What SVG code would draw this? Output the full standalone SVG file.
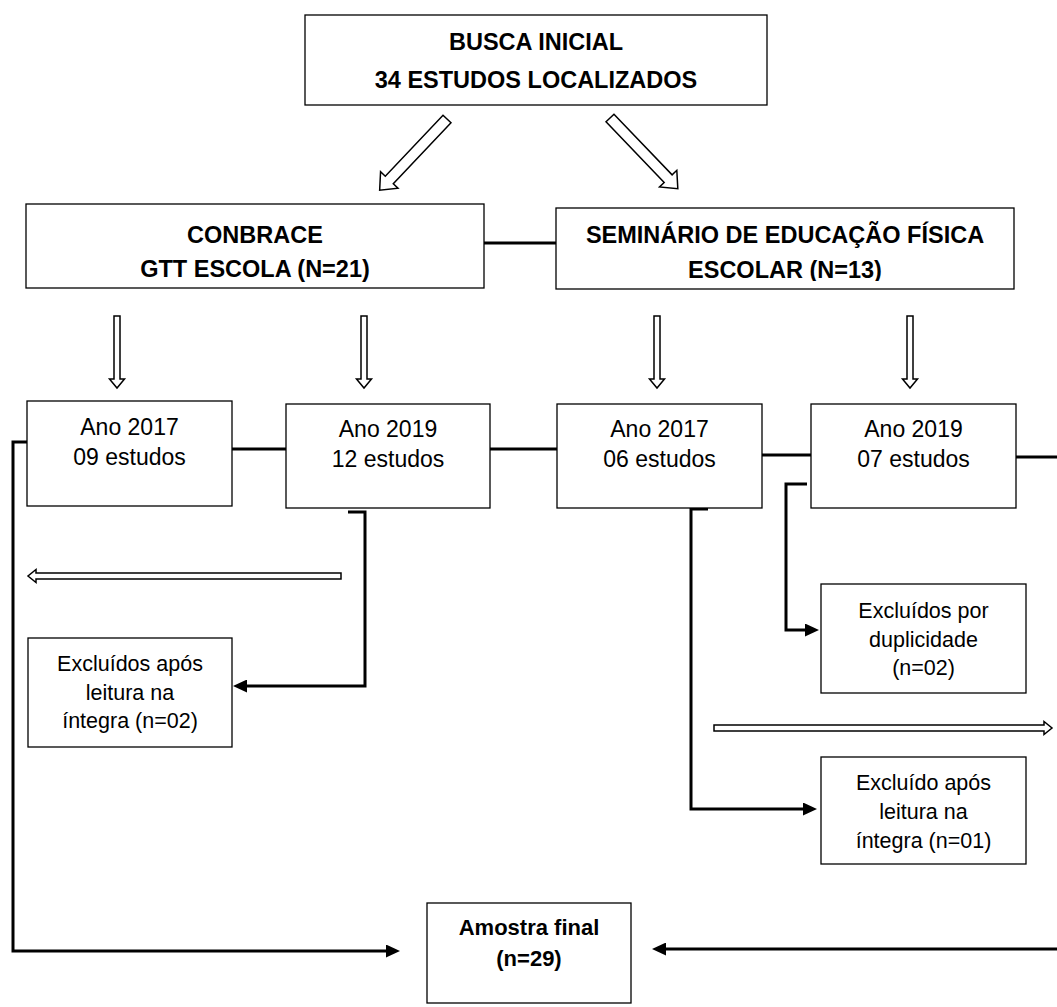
<svg xmlns="http://www.w3.org/2000/svg" width="1057" height="1007" viewBox="0 0 1057 1007">
  <style>
    .box { fill: #fff; stroke: #000; stroke-width: 1.3; }
    .hdr { font-family: "Liberation Sans", Arial, sans-serif; font-weight: bold; font-size: 23.5px; fill: #000; text-anchor: middle; }
    .yr { font-family: "Liberation Sans", Arial, sans-serif; font-size: 23px; fill: #000; text-anchor: middle; }
    .ex { font-family: "Liberation Sans", Arial, sans-serif; font-size: 21.5px; fill: #000; text-anchor: middle; }
    .fin { font-family: "Liberation Sans", Arial, sans-serif; font-weight: bold; font-size: 22px; fill: #000; text-anchor: middle; }
    .conn { fill: none; stroke: #000; stroke-width: 3; stroke-linejoin: miter; }
    .hollow { fill: #fff; stroke: #000; stroke-width: 1.5; stroke-linejoin: miter; }
  </style>
  <defs>
    <marker id="ah" markerUnits="userSpaceOnUse" viewBox="0 0 14 13" refX="0" refY="6.5" markerWidth="14" markerHeight="13" orient="auto">
      <path d="M0,0 L14,6.5 L0,13 z" fill="#000"/>
    </marker>
    <polygon id="diag" points="0,-5.5 84,-5.5 84,-12 98,0 84,12 84,5.5 0,5.5"/>
    <polygon id="down" points="-3,0 3,0 3,63 7.5,63 0,72 -7.5,63 -3,63"/>
    <clipPath id="clipEsc"><rect x="556" y="250" width="458" height="31"/></clipPath>
  </defs>

  <g id="connectors">
    <use href="#diag" class="hollow" transform="translate(447,119) rotate(133.4)"/>
    <use href="#diag" class="hollow" transform="translate(610,118) rotate(46.2)"/>
    <use href="#down" class="hollow" transform="translate(117,316)"/>
    <use href="#down" class="hollow" transform="translate(364,316)"/>
    <use href="#down" class="hollow" transform="translate(657,316)"/>
    <use href="#down" class="hollow" transform="translate(910,316)"/>
    <polygon class="hollow" points="341,573 36,573 36,569.5 28,576 36,582.5 36,579 341,579"/>
    <polygon class="hollow" points="714,725 1044,725 1044,721.5 1052,728 1044,734.5 1044,731 714,731"/>
    <path class="conn" d="M484,243 H556"/>
    <path class="conn" d="M232,449 H286"/>
    <path class="conn" d="M490,449 H557"/>
    <path class="conn" d="M762,455 H811"/>
    <path class="conn" d="M1016,457 H1057"/>
    <path class="conn" d="M27,442 H13 V951 H386" marker-end="url(#ah)"/>
    <path class="conn" d="M348,512 H365 V686 H247" marker-end="url(#ah)"/>
    <path class="conn" d="M807,484 H786 V630 H805" marker-end="url(#ah)"/>
    <path class="conn" d="M708,509 H691 V809 H803" marker-end="url(#ah)"/>
    <path class="conn" d="M1057,949 H666" marker-end="url(#ah)"/>
  </g>

  <g id="busca">
    <rect class="box" x="305" y="15" width="462" height="90"/>
    <text class="hdr" x="536" y="50">BUSCA INICIAL</text>
    <text class="hdr" x="536" y="88">34 ESTUDOS LOCALIZADOS</text>
  </g>

  <g id="conbrace">
    <rect class="box" x="26" y="204" width="458" height="84"/>
    <text class="hdr" x="255" y="243">CONBRACE</text>
    <text class="hdr" x="255" y="277">GTT ESCOLA (N=21)</text>
  </g>

  <g id="seminario">
    <rect class="box" x="556" y="208" width="458" height="81"/>
    <text class="hdr" x="785" y="243">SEMINÁRIO DE EDUCAÇÃO FÍSICA</text>
    <text class="hdr" x="785" y="278" clip-path="url(#clipEsc)">ESCOLAR (N=13)</text>
  </g>

  <g id="conbrace-2017">
    <rect class="box" x="27" y="401" width="205" height="105"/>
    <text class="yr" x="129.5" y="435">Ano 2017</text>
    <text class="yr" x="129.5" y="465">09 estudos</text>
  </g>

  <g id="conbrace-2019">
    <rect class="box" x="286" y="404" width="204" height="104"/>
    <text class="yr" x="388" y="437">Ano 2019</text>
    <text class="yr" x="388" y="467">12 estudos</text>
  </g>

  <g id="seminario-2017">
    <rect class="box" x="557" y="404" width="205" height="104"/>
    <text class="yr" x="659.5" y="437">Ano 2017</text>
    <text class="yr" x="659.5" y="467">06 estudos</text>
  </g>

  <g id="seminario-2019">
    <rect class="box" x="811" y="404" width="205" height="104"/>
    <text class="yr" x="913.5" y="437">Ano 2019</text>
    <text class="yr" x="913.5" y="467">07 estudos</text>
  </g>

  <g id="excluidos-leitura-conbrace">
    <rect class="box" x="28" y="638" width="204" height="109"/>
    <text class="ex" x="130" y="671">Excluídos após</text>
    <text class="ex" x="130" y="700">leitura na</text>
    <text class="ex" x="130" y="728">íntegra (n=02)</text>
  </g>

  <g id="excluidos-duplicidade">
    <rect class="box" x="821" y="584" width="205" height="109"/>
    <text class="ex" x="923.5" y="618">Excluídos por</text>
    <text class="ex" x="923.5" y="647">duplicidade</text>
    <text class="ex" x="923.5" y="675">(n=02)</text>
  </g>

  <g id="excluido-leitura-seminario">
    <rect class="box" x="821" y="757" width="205" height="107"/>
    <text class="ex" x="923.5" y="790">Excluído após</text>
    <text class="ex" x="923.5" y="819">leitura na</text>
    <text class="ex" x="923.5" y="848">íntegra (n=01)</text>
  </g>

  <g id="amostra-final">
    <rect class="box" x="427" y="903" width="204" height="100"/>
    <text class="fin" x="529" y="935">Amostra final</text>
    <text class="fin" x="529" y="966">(n=29)</text>
  </g>
</svg>
